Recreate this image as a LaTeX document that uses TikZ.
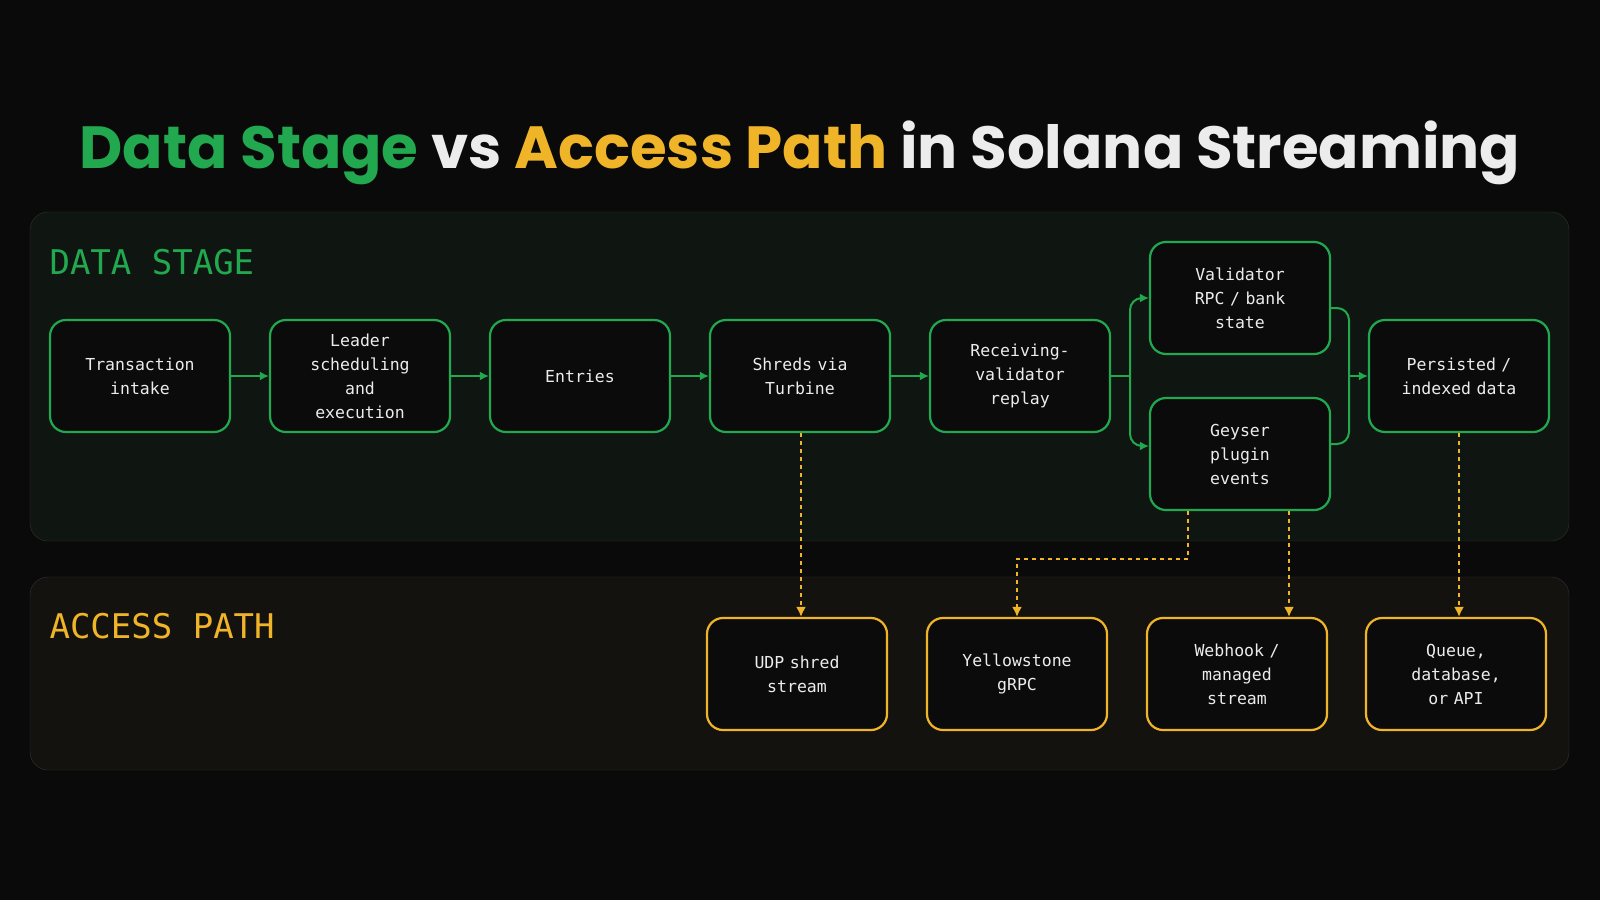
\documentclass[tikz,border=0pt]{standalone}
\usepackage{fontspec}
\setmonofont{DejaVu Sans Mono}
\newfontfamily\titlefont{Poppins}
\usetikzlibrary{arrows.meta}
\definecolor{bgc}{HTML}{0A0A0A}
\definecolor{grn}{HTML}{22A94F}
\definecolor{ylw}{HTML}{F0B429}
\definecolor{panelA}{HTML}{0F1511}
\definecolor{panelB}{HTML}{14120F}
\definecolor{edgec}{HTML}{303330}
\definecolor{boxc}{HTML}{0B0B0B}
\definecolor{txt}{HTML}{ECECEC}
\begin{document}
\begin{tikzpicture}[x=1pt,y=-1pt,
	box/.style={draw,line width=2.2pt,fill=boxc,rounded corners=16pt,minimum width=180pt,minimum height=112pt,
		text=txt,align=center,font=\ttfamily\fontsize{16.5}{24}\selectfont,inner sep=0pt,text width=170pt},
	stage/.style={box,draw=grn},
	acc/.style={box,draw=ylw},
	flow/.style={grn,line width=2pt,-{Latex[length=9pt,width=9pt]},rounded corners=12pt},
	tap/.style={ylw,line width=2pt,dash pattern=on 4pt off 4pt,-{Latex[length=10pt,width=10pt]}}]
	%========
	%Background
	%========
	\fill[bgc] (0,0) rectangle (1600,900);
	\node[font=\titlefont\bfseries\fontsize{59.5}{62}\selectfont,anchor=base] (title) at (800,168)
		{\textcolor{grn}{Data Stage} \textcolor{txt}{vs} \textcolor{ylw}{Access Path} \textcolor{txt}{in Solana Streaming}};

	\draw[edgec,fill=panelA,rounded corners=18pt] (30,212) rectangle (1569,541);	%Data panel
	\draw[edgec,fill=panelB,rounded corners=18pt] (30,577) rectangle (1569,770);	%Access panel
	\node[grn,anchor=base west,font=\ttfamily\fontsize{34}{36}\selectfont] (lblData) at (46,274) {DATA STAGE};
	\node[ylw,anchor=base west,font=\ttfamily\fontsize{34}{36}\selectfont] (lblAccess) at (46,638) {ACCESS PATH};

	%========
	%Data stage
	%========
	\node[stage] (intake) at (140,376) {Transaction\\intake};
	\node[stage] (leader) at (360,376) {Leader\\scheduling\\and\\execution};
	\node[stage] (entries) at (580,376) {Entries};
	\node[stage] (shreds) at (800,376) {Shreds via\\Turbine};
	\node[stage] (replay) at (1020,376) {Receiving-\\validator\\replay};
	\node[stage] (rpc) at (1240,298) {Validator\\RPC / bank\\state};
	\node[stage] (geyser) at (1240,454) {Geyser\\plugin\\events};
	\node[stage] (persist) at (1459,376) {Persisted /\\indexed data};

	\draw[flow] (intake) -- (leader);
	\draw[flow] (leader) -- (entries);
	\draw[flow] (entries) -- (shreds);
	\draw[flow] (shreds) -- (replay);
	\draw[grn,line width=2pt] (replay.east) -- (1130,376);
	\draw[flow] (1130,376) |- (rpc.west);
	\draw[flow] (1130,376) |- ([yshift=8pt]geyser.west);
	\draw[grn,line width=2pt,rounded corners=12pt] ([yshift=-10pt]rpc.east) -| (1349,376) |- ([yshift=10pt]geyser.east);
	\draw[flow] (1349,376) -- (persist.west);

	%========
	%Access path
	%========
	\node[acc] (udp) at (797,674) {UDP shred\\stream};
	\node[acc] (yellow) at (1017,674) {Yellowstone\\gRPC};
	\node[acc] (webhook) at (1237,674) {Webhook /\\managed\\stream};
	\node[acc] (queue) at (1456,674) {Queue,\\database,\\or API};

	\draw[tap] ([xshift=1pt]shreds.south) -- ([xshift=1pt]shreds.south |- udp.north);
	\draw[tap] ([xshift=-52pt]geyser.south) |- (1017,559) -- (yellow.north);
	\draw[tap] ([xshift=49pt]geyser.south) -- ([xshift=49pt]geyser.south |- webhook.north);
	\draw[tap] (persist.south) -- (persist.south |- queue.north);
\end{tikzpicture}
\end{document}
